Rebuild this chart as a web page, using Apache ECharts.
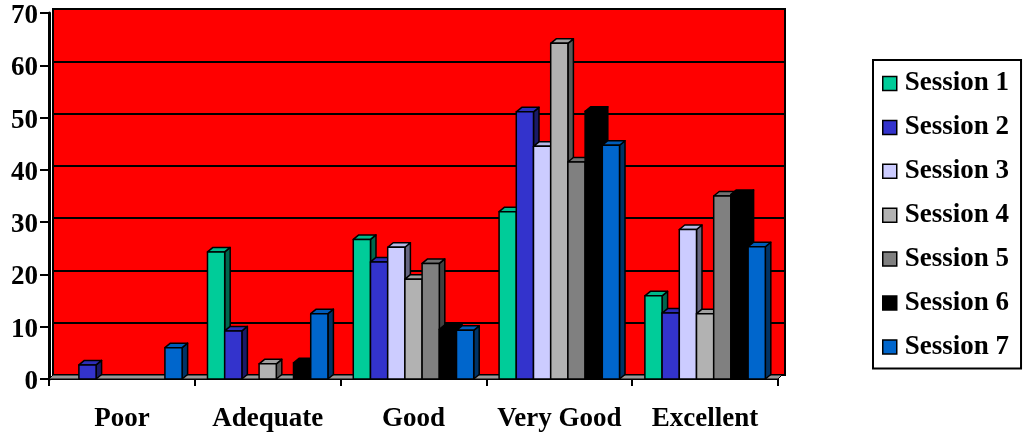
<!DOCTYPE html>
<html>
<head>
<meta charset="utf-8">
<script src="https://cdn.jsdelivr.net/npm/echarts@6/dist/echarts.min.js"></script>
<style>
  html, body { margin: 0; padding: 0; background: #ffffff; }
  #chart { width: 1026px; height: 437px; }
</style>
</head>
<body>
<div id="chart"></div>
<script>
// Ratings per session, in percent of respondents
const categories = ['Poor', 'Adequate', 'Good', 'Very Good', 'Excellent'];
const sessionNames = ['Session 1', 'Session 2', 'Session 3', 'Session 4', 'Session 5', 'Session 6', 'Session 7'];
const session1 = [0, 24.3, 26.7, 32.0, 15.9];
const session2 = [2.7, 9.2, 22.4, 51.1, 12.6];
const session3 = [0, 0, 25.2, 44.5, 28.6];
const session4 = [0, 2.9, 19.1, 64.2, 12.5];
const session5 = [0, 0, 22.1, 41.5, 35.0];
const session6 = [0, 3.1, 9.5, 51.2, 35.3];
const session7 = [6.0, 12.5, 9.3, 44.7, 25.3];
const yMin = 0, yMax = 70, yStep = 10;

const sessionValues = [session1, session2, session3, session4, session5, session6, session7];
const sessionColors = ['#00CC99', '#3333CC', '#CCCCFF', '#B2B2B2', '#808080', '#000000', '#0066CC'];

const FONT = 'Liberation Serif';
const GROUP_FRACTION = 0.826;   // share of a category band taken by its bar cluster
const DEPTH_X = 5.5, DEPTH_Y = 4.5; // bar extrusion
const WALL_X = 4, WALL_Y = 4;       // floor depth

function shade(hex, k) {
  const n = parseInt(hex.slice(1), 16);
  const r = Math.round(((n >> 16) & 255) * k);
  const g = Math.round(((n >> 8) & 255) * k);
  const b = Math.round((n & 255) * k);
  return 'rgb(' + r + ',' + g + ',' + b + ')';
}

function barRenderer(s) {
  return function (params, api) {
    const cat = api.value(0);
    const v = api.value(1);
    if (!v) return { type: 'group', children: [] };
    const base = api.coord([cat, 0]);
    const top = api.coord([cat, v]);
    const band = api.size([1, 0])[0];
    const group = band * GROUP_FRACTION;
    const w = group / sessionNames.length;
    const x0 = base[0] - group / 2 + s * w;
    const x1 = x0 + w;
    const ty = top[1], by = base[1];
    const col = sessionColors[s];
    const edge = { stroke: '#000', lineWidth: 1.5, lineJoin: 'round' };
    return {
      type: 'group',
      children: [
        { type: 'polygon', shape: { points: [[x1, ty], [x1 + DEPTH_X, ty - DEPTH_Y], [x1 + DEPTH_X, by - DEPTH_Y], [x1, by]] },
          style: Object.assign({ fill: shade(col, 0.5) }, edge) },
        { type: 'polygon', shape: { points: [[x0, ty], [x0 + DEPTH_X, ty - DEPTH_Y], [x1 + DEPTH_X, ty - DEPTH_Y], [x1, ty]] },
          style: Object.assign({ fill: shade(col, 0.9) }, edge) },
        { type: 'rect', shape: { x: x0, y: ty, width: w, height: by - ty },
          style: Object.assign({ fill: col }, edge) }
      ]
    };
  };
}

function floorRenderer(params, api) {
  const first = api.coord([0, 0]);
  const last = api.coord([categories.length - 1, 0]);
  const band = api.size([1, 0])[0];
  const xl = first[0] - band / 2, xr = last[0] + band / 2, y = first[1];
  return {
    type: 'polygon',
    shape: { points: [[xl, y], [xl + WALL_X, y - WALL_Y], [xr + WALL_X, y - WALL_Y], [xr, y]] },
    style: { fill: '#9a9a9a', stroke: '#000', lineWidth: 1 }
  };
}

const series = [{
  type: 'custom',
  name: 'floor',
  xAxisIndex: 1, yAxisIndex: 1,
  renderItem: floorRenderer,
  data: [[0, 0]],
  silent: true,
  z: 1
}];
sessionNames.forEach(function (name, s) {
  series.push({
    type: 'custom',
    name: name,
    xAxisIndex: 1, yAxisIndex: 1,
    itemStyle: { color: sessionColors[s] },
    renderItem: barRenderer(s),
    encode: { x: 0, y: 1 },
    data: sessionValues[s].map(function (v, i) { return [i, v]; }),
    z: 2 + s
  });
});

const chart = echarts.init(document.getElementById('chart'), null, { renderer: 'canvas' });
chart.setOption({
  animation: false,
  backgroundColor: '#ffffff',
  textStyle: { fontFamily: FONT },
  grid: [
    { left: 53, top: 9, width: 732, height: 366, show: true, backgroundColor: '#FF0000', borderColor: '#000', borderWidth: 2, z: 0 },
    { left: 49, top: 13, width: 729, height: 366 }
  ],
  xAxis: [
    { gridIndex: 0, type: 'category', data: categories, show: false },
    { gridIndex: 1, type: 'category', data: categories,
      axisLine: { lineStyle: { color: '#000', width: 2 } },
      axisTick: { show: true, length: 7, interval: 0, lineStyle: { color: '#000', width: 2 } },
      axisLabel: { color: '#000', fontFamily: FONT, fontWeight: 'bold', fontSize: 27, margin: 27, interval: 0 },
      splitLine: { show: false } }
  ],
  yAxis: [
    { gridIndex: 0, type: 'value', min: yMin, max: yMax, interval: yStep,
      axisLine: { show: false }, axisTick: { show: false }, axisLabel: { show: false },
      splitLine: { show: true, lineStyle: { color: '#000', width: 2 } } },
    { gridIndex: 1, type: 'value', min: yMin, max: yMax, interval: yStep,
      axisLine: { show: true, lineStyle: { color: '#000', width: 3 } },
      axisTick: { show: true, length: 9, lineStyle: { color: '#000', width: 2 } },
      axisLabel: { color: '#000', fontFamily: FONT, fontWeight: 'bold', fontSize: 27, margin: 11,
                   verticalAlign: 'top', lineHeight: 6 },
      splitLine: { show: false } }
  ],
  legend: {
    data: sessionNames,
    orient: 'vertical',
    left: 873, top: 60,
    padding: [10, 12, 8, 9],
    itemGap: 16.9,
    itemWidth: 14, itemHeight: 14,
    icon: 'rect',
    borderColor: '#000', borderWidth: 2,
    itemStyle: { borderColor: '#000', borderWidth: 1.5 },
    textStyle: { color: '#000', fontFamily: FONT, fontWeight: 'bold', fontSize: 27, lineHeight: 26, padding: [0, 0, 0, 3] }
  },
  series: series
});
</script>
</body>
</html>
